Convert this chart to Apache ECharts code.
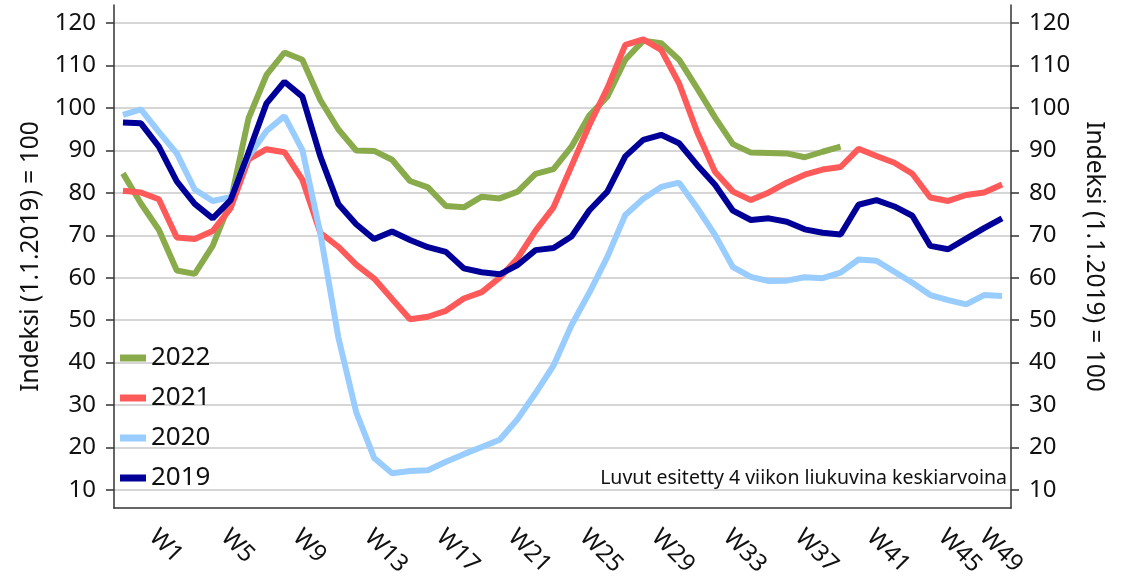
<!DOCTYPE html>
<html>
<head>
<meta charset="utf-8">
<script src="https://cdn.jsdelivr.net/npm/echarts@6/dist/echarts.min.js"></script>
<style>
  html, body { margin: 0; padding: 0; background: #fff; }
  #chart { width: 1133px; height: 586px; }
</style>
</head>
<body>
<div id="chart"></div>
<script>
// viikot
const weeks = ["W1","W2","W3","W4","W5","W6","W7","W8","W9","W10",
  "W11","W12","W13","W14","W15","W16","W17","W18","W19","W20",
  "W21","W22","W23","W24","W25","W26","W27","W28","W29","W30",
  "W31","W32","W33","W34","W35","W36","W37","W38","W39","W40",
  "W41","W42","W43","W44","W45","W46","W47","W48","W49","W50"];

const y2022 = [84.6, 77.5, 71.3, 61.7, 60.9, 67.5, 78.0, 97.6, 107.8, 113.1,
  111.4, 101.9, 95.0, 90.0, 89.9, 87.8, 82.8, 81.3, 76.9, 76.6,
  79.1, 78.7, 80.3, 84.5, 85.6, 90.9, 98.3, 102.7, 111.4, 115.9,
  115.3, 111.4, 104.7, 97.8, 91.5, 89.5, 89.4, 89.3, 88.4, 89.7,
  90.9, null, null, null, null, null, null, null, null, null];

const y2021 = [80.5, 80.1, 78.5, 69.5, 69.1, 71.0, 76.4, 87.9, 90.3, 89.6,
  83.1, 70.6, 67.3, 63.1, 59.8, 55.0, 50.2, 50.8, 52.2, 55.1,
  56.6, 60.0, 64.6, 71.1, 76.6, 86.3, 96.0, 104.7, 114.9, 116.2,
  113.7, 105.8, 94.4, 85.0, 80.3, 78.3, 80.1, 82.4, 84.3, 85.5,
  86.1, 90.4, 88.7, 87.1, 84.5, 78.9, 78.1, 79.5, 80.1, 82.0];

const y2020 = [98.4, 99.7, 94.4, 89.3, 80.8, 78.1, 79.0, 88.6, 94.6, 98.1,
  90.1, 70.5, 46.0, 28.3, 17.5, 13.9, 14.4, 14.6, 16.6, 18.4,
  20.1, 21.8, 26.7, 32.8, 39.3, 48.8, 56.5, 64.9, 74.8, 78.6,
  81.4, 82.4, 76.5, 70.1, 62.5, 60.2, 59.2, 59.3, 60.1, 59.9,
  61.2, 64.3, 64.0, 61.4, 58.8, 55.9, 54.7, 53.7, 55.9, 55.7];

const y2019 = [96.6, 96.4, 90.9, 82.7, 77.4, 74.0, 78.3, 89.5, 101.1, 106.2,
  102.7, 88.6, 77.4, 72.6, 69.1, 70.9, 68.9, 67.2, 66.1, 62.2,
  61.3, 60.8, 63.0, 66.5, 67.0, 69.7, 75.9, 80.3, 88.6, 92.5,
  93.7, 91.7, 86.6, 81.9, 75.8, 73.6, 74.0, 73.2, 71.4, 70.6,
  70.2, 77.2, 78.3, 76.8, 74.6, 67.5, 66.7, 69.2, 71.7, 74.0];

const yTicks = [10, 20, 30, 40, 50, 60, 70, 80, 90, 100, 110, 120];

const FONT = "'Noto Sans', 'DejaVu Sans', sans-serif";
const axisName = "Indeksi (1.1.2019) = 100";

let chart = echarts.init(document.getElementById("chart"));

function yAxisCfg(pos) {
  return {
    type: "value",
    position: pos,
    min: 5.7,
    max: 124.3,
    name: axisName,
    nameLocation: "middle",
    nameGap: 64,
    nameRotate: pos === "left" ? 90 : -90,
    nameTextStyle: { fontFamily: FONT, fontSize: 24.5, color: "#111" },
    axisLine: { show: true, lineStyle: { color: "#333", width: 1.5 } },
    axisTick: { show: true, length: 8, customValues: yTicks, lineStyle: { color: "#333", width: 1.5 } },
    axisLabel: { customValues: yTicks, margin: 18, fontFamily: FONT, fontSize: 24, color: "#111" },
    splitLine: { show: pos === "left", lineStyle: { color: "#c8c8c8", width: 1.5 } }
  };
}

let option = {
  animation: false,
  color: ["#89AB4C", "#FF5A5A", "#99CCFF", "#000099"],
  grid: { left: 114, right: 122, top: 5, bottom: 78, outerBoundsMode: "none" },
  legend: {
    orient: "vertical",
    left: 115,
    top: 339,
    itemWidth: 26,
    itemHeight: 7,
    itemGap: 12,
    icon: "rect",
    data: ["2022", "2021", "2020", "2019"],
    textStyle: { fontFamily: FONT, fontSize: 26, lineHeight: 28, color: "#111" }
  },
  xAxis: {
    type: "category",
    data: weeks,
    boundaryGap: true,
    axisLine: { lineStyle: { color: "#333", width: 1.5 } },
    axisTick: { interval: 3, length: 8, lineStyle: { color: "#333", width: 1.5 } },
    axisLabel: {
      interval: 3,
      rotate: -45,
      margin: 6,
      color: "#111",
      fontFamily: FONT,
      fontSize: 24,
      formatter: function (v) {
        return v === "W49" ? "{e|" + v + "}" : "{n|" + v + "}";
      },
      rich: {
        n: { fontFamily: FONT, fontSize: 24, color: "#111", padding: [0, 0, 15, 35] },
        e: { fontFamily: FONT, fontSize: 24, color: "#111", padding: [38, 0, 10, 13] }
      }
    },
    splitLine: { show: false }
  },
  yAxis: [yAxisCfg("left"), yAxisCfg("right")],
  graphic: [{
    type: "text",
    right: 126,
    top: 468,
    style: {
      text: "Luvut esitetty 4 viikon liukuvina keskiarvoina",
      fontFamily: FONT,
      fontSize: 19.5,
      fill: "#111"
    }
  }],
  series: [
    { name: "2022", type: "line", data: y2022, symbol: "none", lineStyle: { width: 6 } },
    { name: "2021", type: "line", data: y2021, symbol: "none", lineStyle: { width: 6 } },
    { name: "2020", type: "line", data: y2020, symbol: "none", lineStyle: { width: 6 } },
    { name: "2019", type: "line", data: y2019, symbol: "none", lineStyle: { width: 6 } }
  ]
};

chart.setOption(option);
window.onresize = function () {
  chart.resize();
};
</script>
</body>
</html>
